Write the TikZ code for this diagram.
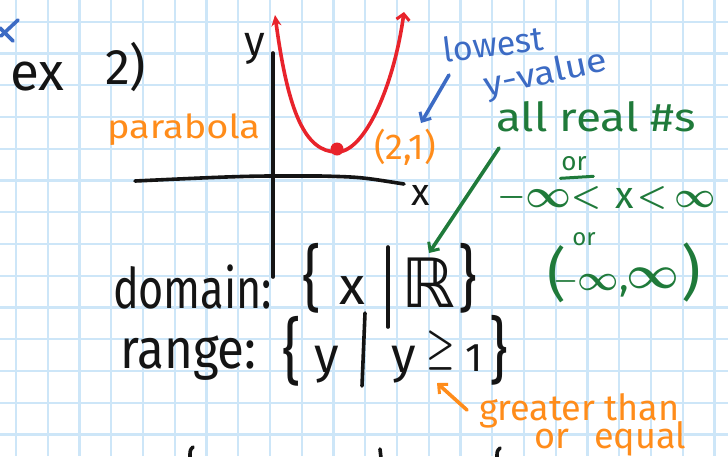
\documentclass[tikz,border=0pt]{standalone}
\usepackage{fontspec}
\setmainfont{Fira Sans}
\newfontfamily\sym{DejaVu Sans}
\usetikzlibrary{arrows.meta}
\definecolor{ink}{HTML}{141414}
\definecolor{redc}{HTML}{E8232B}
\definecolor{orng}{HTML}{FF8C1A}
\definecolor{blu}{HTML}{3C6BC4}
\definecolor{grn}{HTML}{1F7A3A}
\definecolor{gridc}{HTML}{CDE6F8}
\newcommand{\fs}[1]{\fontsize{#1}{#1}\selectfont}
\newcommand{\bm}[2]{\scalebox{#1}{\boldmath$#2$}}
\begin{document}
\begin{tikzpicture}[x=1pt,y=-1pt,
  hw/.style={inner sep=0pt,outer sep=0pt},
  stroke/.style={line width=3.6pt,line cap=round,line join=round},
  barb/.style={-{Straight Barb[length=7pt,width=13pt,line width=3pt]}},
  gridline/.style={gridc,line width=2.4pt}]
\useasboundingbox (0,0) rectangle (728,456);
\fill[white] (0,0) rectangle (728,456);
% graph paper
\foreach \k in {0,...,22} \draw[gridline] ({16+31.75*\k},0) -- ({16+31.75*\k},456);
\foreach \k in {0,...,13} \draw[gridline] (0,{21.7+31.75*\k}) -- (728,{21.7+31.75*\k});
% blue mark top-left
\draw[blu,stroke] (18,20) -- (1,36);
\draw[blu,stroke] (0,28) -- (13,41);
% title
\node[hw,anchor=base west,text=ink] (ex) at (10,90) {\fs{53}ex};
\node[hw,anchor=base west,text=ink] (two) at (105,84) {\fs{50}2)};
% axes
\draw[ink,stroke] (273,53) -- (273,277);
\draw[ink,stroke] (135,181) .. controls (200,178) and (240,176) .. (273,176) -- (320,176) .. controls (360,177) .. (404,184);
\node[hw,anchor=base,text=ink] (ylab) at (255,55) {\fs{42}y};
\node[hw,anchor=base,text=ink] (xlab) at (421,205) {\fs{38}x};
% parabola
\draw[redc,stroke,{Stealth[length=11pt,width=10pt]}-{Straight Barb[length=6pt,width=13pt,line width=3pt]}]
  (275,15) .. controls (288,112) and (305,152) .. (337,152) .. controls (365,152) and (394,85) .. (404,12);
\fill[redc] (337,149) circle (6.5);
\node[hw,anchor=base west,text=orng] (parab) at (107,138) {\fs{33}\scalebox{1.15}[1]{parabola}};
\node[hw,text=orng] (pt) at (405,147) {\fs{36}(2,1)};
% lowest y-value
\node[hw,rotate=7,text=blu] (low) at (493,44) {\fs{34}lowest};
\node[hw,rotate=12,text=blu] (yval) at (546,75) {\fs{33}\scalebox{1.15}[1]{y-value}};
\coordinate (bA) at (449,75);
\coordinate (bB) at (421,123);
\draw[blu,stroke,barb] (bA) -- (bB);
% all real numbers
\node[hw,anchor=base west,text=grn] (allreal) at (496,131) {\fs{40}\scalebox{1.15}[1]{all real \#s}};
\node[hw,anchor=base,text=grn] (or1) at (574,170) {\fs{26}or};
\draw[grn,line width=3pt,line cap=round] (or1.south west) ++(-1,8) -- ++(33,-2);
% -inf < x < inf
\node[hw,text=grn] (m1) at (512,197) {\bm{3.2}{-}};
\node[hw,text=grn] (inf1) at (548,199) {\bm{4.0}{\infty}};
\node[hw,text=grn] (lt1) at (586,198) {\bm{3.4}{<}};
\node[hw,text=grn] (ix) at (625,198) {\fs{38}x};
\node[hw,text=grn] (lt2) at (652,198) {\bm{3.4}{<}};
\node[hw,text=grn] (inf2) at (695,199) {\bm{3.6}{\infty}};
\node[hw,anchor=base,text=grn] (or2) at (584,245) {\fs{24}or};
% (-inf, inf)
\node[hw,text=grn] (lp) at (557,274) {\fs{58}(};
\node[hw,text=grn] (m2) at (566,281) {\bm{2.8}{-}};
\node[hw,text=grn] (inf3) at (598,282) {\bm{3.6}{\infty}};
\node[hw,anchor=base,text=grn] (comma) at (624,290) {\fs{40},};
\node[hw,text=grn] (inf4) at (653,278) {\bm{4.6}{\infty}};
\node[hw,text=grn] (rp) at (691,272) {\fs{60})};
\coordinate (gA) at (499,148);
\coordinate (gB) at (429,253);
\draw[grn,stroke,barb] (gA) -- (gB);
% domain
\node[hw,anchor=base west,text=ink] (dom) at (113,308) {\fs{56}\scalebox{0.77}[1]{domain:}};
\node[hw,text=ink] (lb1) at (312,278) {\fs{72}\scalebox{0.8}[1]{\{}};
\node[hw,text=ink] (dx) at (352,291) {\fs{53}x};
\draw[ink,stroke] (388,247) -- (388,327);
\node[hw,text=ink] (R) at (428,283) {\fs{68}\sym ℝ};
\node[hw,text=ink] (rb1) at (468,278) {\fs{72}\scalebox{0.8}[1]{\}}};
% range
\node[hw,anchor=base west,text=ink] (rng) at (120,368) {\fs{56}\scalebox{0.88}[1]{range:}};
\node[hw,text=ink] (lb2) at (292,351) {\fs{72}\scalebox{0.8}[1]{\{}};
\node[hw,anchor=base,text=ink] (ry1) at (327,372) {\fs{50}y};
\draw[ink,stroke] (365,313) -- (362,386);
\node[hw,anchor=base,text=ink] (ry2) at (404,372) {\fs{50}y};
\node[hw,text=ink] (geq) at (441,350) {\scalebox{3.2}[4.4]{\boldmath$\geq$}};
\node[hw,anchor=base,text=ink] (one) at (474,371) {\fs{40}1};
\node[hw,text=ink] (rb2) at (499,350) {\fs{72}\scalebox{0.8}[1]{\}}};
% greater than or equal
\node[hw,anchor=base west,text=orng] (gt) at (479,420) {\fs{36}greater than};
\node[hw,anchor=base west,text=orng] (or3) at (534,448) {\fs{36}or};
\node[hw,anchor=base west,text=orng] (equal) at (594,448) {\fs{36}equal};
\coordinate (oA) at (467,410);
\coordinate (oB) at (437,383);
\draw[orng,stroke,barb] (oA) -- (oB);
% cut-off strokes at the bottom
\draw[ink,stroke] (193,447) .. controls (190,450) .. (190,458);
\draw[ink,stroke] (380,449) -- (381,458);
\draw[ink,stroke] (500,448) .. controls (497,451) .. (497,458);
\end{tikzpicture}
\end{document}
